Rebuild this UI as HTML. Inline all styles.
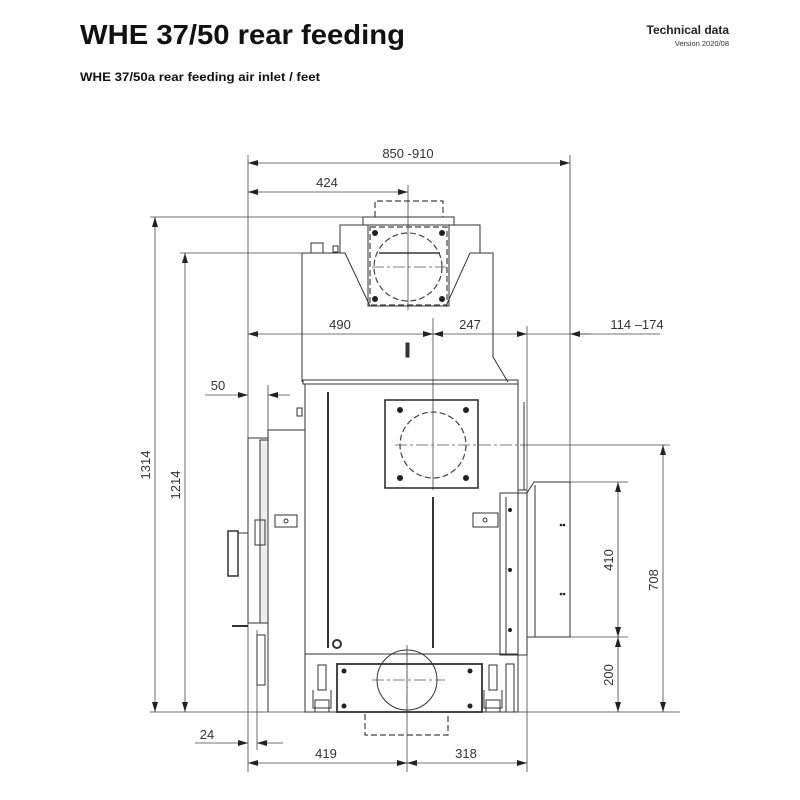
<!DOCTYPE html>
<html><head><meta charset="utf-8"><style>
html,body{margin:0;padding:0;background:#fff;width:800px;height:800px;overflow:hidden}
svg{display:block}
text{font-family:"Liberation Sans",sans-serif}
.l{stroke:#333;stroke-width:1;fill:none}
.t{stroke:#444;stroke-width:0.8;fill:none}
.d{stroke:#444;stroke-width:1.2;fill:none;stroke-dasharray:6 3}
.c{stroke:#555;stroke-width:0.8;fill:none;stroke-dasharray:12 3 3 3}
.dim{font-size:13px;fill:#333}
</style></head><body>
<svg width="800" height="800" viewBox="0 0 800 800" xmlns="http://www.w3.org/2000/svg">
<defs>
<marker id="a" viewBox="0 0 10 6" refX="10" refY="3" markerWidth="10" markerHeight="6" orient="auto-start-reverse" markerUnits="userSpaceOnUse"><path d="M0,0 L10,3 L0,6z" fill="#222"/></marker>
</defs>
<text x="80" y="44" font-size="28" font-weight="bold" fill="#111" textLength="325" lengthAdjust="spacingAndGlyphs">WHE 37/50 rear feeding</text>
<text x="80" y="81" font-size="12" font-weight="bold" fill="#111" textLength="240" lengthAdjust="spacingAndGlyphs">WHE 37/50a rear feeding air inlet / feet</text>
<text x="729" y="34" font-size="12" font-weight="bold" fill="#222" text-anchor="end">Technical data</text>
<text x="729" y="46" font-size="7.5" fill="#333" text-anchor="end">Version 2020/08</text>

<g class="t">
<line x1="248" y1="155" x2="248" y2="772"/>
<line x1="570" y1="155" x2="570" y2="482"/>
<line x1="408" y1="185" x2="408" y2="310"/>
<line x1="150" y1="217" x2="363" y2="217"/>
<line x1="180" y1="253" x2="302" y2="253"/>
<line x1="150" y1="712" x2="680" y2="712"/>
<line x1="433" y1="318" x2="433" y2="490"/>
<line x1="527" y1="326" x2="527" y2="772"/>
<line x1="268" y1="385" x2="268" y2="430"/>
<line x1="257" y1="630" x2="257" y2="750"/>
<line x1="407" y1="645" x2="407" y2="772"/>
<line x1="570" y1="482" x2="628" y2="482"/>
<line x1="527" y1="637" x2="628" y2="637"/>
<line x1="520" y1="445" x2="670" y2="445"/>
</g>
<g class="t" stroke="#222">
<line x1="248" y1="163" x2="570" y2="163" marker-start="url(#a)" marker-end="url(#a)"/>
<line x1="248" y1="192" x2="408" y2="192" marker-start="url(#a)" marker-end="url(#a)"/>
<line x1="248" y1="334" x2="433" y2="334" marker-start="url(#a)" marker-end="url(#a)"/>
<line x1="433" y1="334" x2="527" y2="334" marker-start="url(#a)" marker-end="url(#a)"/>
<line x1="527" y1="334" x2="660" y2="334"/>
<line x1="590" y1="334" x2="570" y2="334" marker-end="url(#a)"/>
<line x1="205" y1="395" x2="248" y2="395" marker-end="url(#a)"/>
<line x1="290" y1="395" x2="268" y2="395" marker-end="url(#a)"/>
<line x1="155" y1="217" x2="155" y2="712" marker-start="url(#a)" marker-end="url(#a)"/>
<line x1="185" y1="253" x2="185" y2="712" marker-start="url(#a)" marker-end="url(#a)"/>
<line x1="195" y1="743" x2="248" y2="743" marker-end="url(#a)"/>
<line x1="283" y1="743" x2="257" y2="743" marker-end="url(#a)"/>
<line x1="248" y1="763" x2="407" y2="763" marker-start="url(#a)" marker-end="url(#a)"/>
<line x1="407" y1="763" x2="527" y2="763" marker-start="url(#a)" marker-end="url(#a)"/>
<line x1="618" y1="482" x2="618" y2="637" marker-start="url(#a)" marker-end="url(#a)"/>
<line x1="618" y1="637" x2="618" y2="712" marker-start="url(#a)" marker-end="url(#a)"/>
<line x1="663" y1="445" x2="663" y2="712" marker-start="url(#a)" marker-end="url(#a)"/>
</g>
<g class="dim">
<text x="408" y="158" text-anchor="middle">850 -910</text>
<text x="327" y="187" text-anchor="middle">424</text>
<text x="340" y="329" text-anchor="middle">490</text>
<text x="470" y="329" text-anchor="middle">247</text>
<text x="637" y="329" text-anchor="middle">114 –174</text>
<text x="218" y="390" text-anchor="middle">50</text>
<text x="207" y="739" text-anchor="middle">24</text>
<text x="326" y="758" text-anchor="middle">419</text>
<text x="466" y="758" text-anchor="middle">318</text>
<text transform="translate(150,465) rotate(-90)" text-anchor="middle">1314</text>
<text transform="translate(180,485) rotate(-90)" text-anchor="middle">1214</text>
<text transform="translate(613,560) rotate(-90)" text-anchor="middle">410</text>
<text transform="translate(613,675) rotate(-90)" text-anchor="middle">200</text>
<text transform="translate(658,580) rotate(-90)" text-anchor="middle">708</text>
</g>

<g class="l">
<rect x="363" y="217" width="91" height="8"/>
<path d="M340 253 L340 225 L480 225 L480 253"/>
<path d="M302 253 L345 253 L370 306 L446 306 L470 253 L493 253 L493 357 L508 382"/>
<line x1="302" y1="253" x2="302" y2="382"/>
<rect x="368" y="225" width="81" height="81"/>
<rect x="311" y="243" width="12" height="10"/>
<rect x="333" y="246" width="5" height="6"/>
<line x1="379" y1="253" x2="440" y2="253" stroke-width="1.5"/>
<rect x="406" y="343" width="3" height="14" fill="#333"/>
</g>
<path class="d" d="M375 217 L375 201 L443 201 L443 217"/>
<rect class="d" x="370" y="227" width="77" height="78"/>
<circle class="d" cx="408" cy="267" r="34"/>
<line class="c" x1="372" y1="267" x2="446" y2="267"/>
<g fill="#222"><circle cx="375" cy="233" r="3"/><circle cx="442" cy="233" r="3"/><circle cx="375" cy="299" r="3"/><circle cx="442" cy="299" r="3"/></g>

<g class="l">
<rect x="303" y="380" width="215" height="4"/>
<path d="M305 384 L305 712 L518 712 L518 384"/>
<path d="M518 384 L518 490 L527 490"/>
<line x1="524" y1="402" x2="524" y2="490"/>
<rect x="385" y="400" width="93" height="88" stroke-width="1.6"/>
<line x1="305" y1="654" x2="518" y2="654"/>
<line x1="328" y1="392" x2="328" y2="648" stroke-width="2"/>
<line x1="433" y1="497" x2="433" y2="648" stroke-width="2"/>
<circle cx="337" cy="644" r="4" stroke-width="2"/>
<rect x="297" y="408" width="5" height="8"/>
<path d="M268 712 L268 430 L305 430"/>
<rect x="248" y="438" width="20" height="185"/>
<rect x="260" y="440" width="8" height="183" fill="#eee"/>
<rect x="255" y="520" width="10" height="25"/>
<rect x="228" y="531" width="10" height="45" stroke-width="1.5"/>
<line x1="238" y1="533" x2="248" y2="533"/>
<line x1="232" y1="626" x2="248" y2="626" stroke-width="2"/>
<rect x="257" y="635" width="8" height="50"/>
<rect x="275" y="515" width="22" height="12"/>
<circle cx="286" cy="521" r="2"/>
<rect x="500" y="493" width="27" height="162"/>
<line x1="506" y1="497" x2="506" y2="655"/>
<path d="M527 493 L534 482 L570 482 L570 637 L527 637"/>
<line x1="535" y1="485" x2="535" y2="637"/>
<rect x="473" y="513" width="25" height="14"/>
<circle cx="485" cy="520" r="2"/>
<rect x="506" y="664" width="8" height="48"/>
<rect x="337" y="664" width="145" height="48" stroke-width="1.8"/>
<circle cx="407" cy="680" r="30"/>
<rect x="318" y="665" width="8" height="25"/>
<path d="M313 690 L313 708 L331 708 L331 690"/>
<rect x="315" y="700" width="14" height="12"/>
<rect x="489" y="665" width="8" height="25"/>
<path d="M484 690 L484 708 L502 708 L502 690"/>
<rect x="486" y="700" width="14" height="12"/>
</g>
<g fill="#222"><circle cx="400" cy="410" r="3"/><circle cx="466" cy="410" r="3"/><circle cx="400" cy="478" r="3"/><circle cx="466" cy="478" r="3"/>
<circle cx="510" cy="510" r="2"/><circle cx="510" cy="570" r="2"/><circle cx="510" cy="630" r="2"/>
<circle cx="561" cy="525" r="1.3"/><circle cx="564" cy="525" r="1.3"/><circle cx="561" cy="594" r="1.3"/><circle cx="564" cy="594" r="1.3"/>
<circle cx="344" cy="671" r="2.5"/><circle cx="344" cy="706" r="2.5"/><circle cx="470" cy="671" r="2.5"/><circle cx="470" cy="706" r="2.5"/></g>
<circle class="d" cx="433" cy="445" r="33"/>
<line class="c" x1="395" y1="445" x2="520" y2="445"/>
<line class="c" x1="372" y1="680" x2="445" y2="680"/>
<path class="d" d="M365 714 L365 735 L448 735 L448 714" stroke-width="0.9"/>
<line class="c" x1="407" y1="650" x2="407" y2="712"/>
</svg>
</body></html>
